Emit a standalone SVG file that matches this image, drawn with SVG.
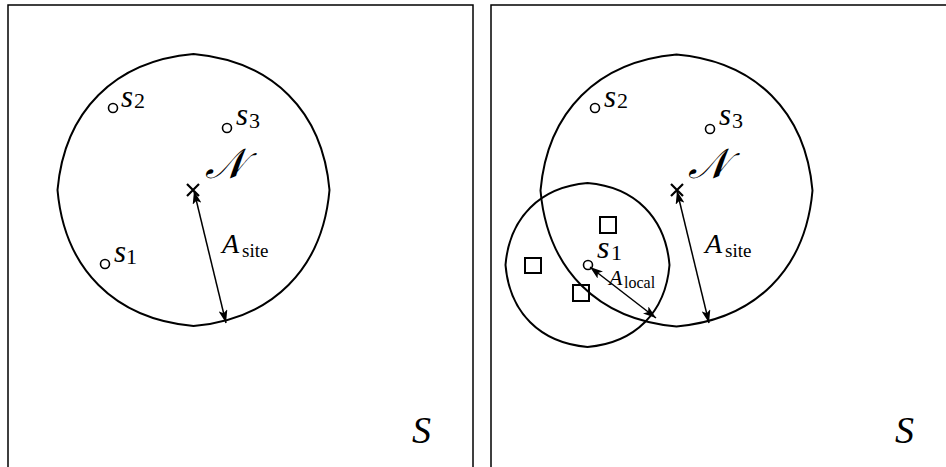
<svg xmlns="http://www.w3.org/2000/svg" width="946" height="467" viewBox="0 0 946 467">
<defs>
<marker id="ah" markerUnits="userSpaceOnUse" viewBox="0 0 13 9" refX="13" refY="4.5" markerWidth="13" markerHeight="9" orient="auto-start-reverse">
<path d="M0,0 L13,4.5 L0,9 L3,4.5 Z" fill="#000"/>
</marker>
<style>
.frame{fill:none;stroke:#000;stroke-width:1.5}
.blob{fill:none;stroke:#000;stroke-width:2}
.site{fill:#fff;stroke:#000;stroke-width:1.6}
.sq{fill:none;stroke:#000;stroke-width:2}
.cross{stroke:#000;stroke-width:2.2;fill:none}
.arr{stroke:#000;stroke-width:1.5;fill:none;marker-start:url(#ah);marker-end:url(#ah)}
</style>
</defs>
<g id="panel-left">
<rect id="frame-left" class="frame" x="8" y="5" width="465" height="480"/>
<g id="site-region-left"><path class="blob" d="M193.5,54 C272.5,61 322.5,111 329.5,190 C322.5,269 272.5,319 193.5,326 C114.5,319 64.5,269 57.5,190 C64.5,111 114.5,61 193.5,54 Z"/></g>
<g id="center-left"><path class="cross" d="M187,184 L199,196 M199,184 L187,196"/><text font-family="Liberation Serif" font-style="italic" font-size="42" x="205" y="178">𝒩</text></g>
<g id="s1-left"><circle class="site" cx="105" cy="264" r="4.5"/><text font-family="Liberation Serif" font-style="italic" font-size="31" x="114" y="262">s</text><text font-family="Liberation Serif" font-size="22" x="126" y="264">1</text></g>
<g id="s2-left"><circle class="site" cx="113" cy="108" r="4.5"/><text font-family="Liberation Serif" font-style="italic" font-size="31" x="121" y="107">s</text><text font-family="Liberation Serif" font-size="22" x="134" y="108">2</text></g>
<g id="s3-left"><circle class="site" cx="227" cy="128" r="4.5"/><text font-family="Liberation Serif" font-style="italic" font-size="31" x="236" y="125">s</text><text font-family="Liberation Serif" font-size="22" x="249" y="128">3</text></g>
<g id="label-Asite-left"><text font-family="Liberation Serif" font-style="italic" font-size="28" x="222" y="253">A</text><text font-family="Liberation Serif" font-size="19" x="242" y="257">site</text></g>
<g id="label-S-left"><text font-family="Liberation Serif" font-style="italic" font-size="38" x="412" y="443">S</text></g>
</g>
<g id="panel-right">
<rect id="frame-right" class="frame" x="491" y="5" width="465" height="480"/>
<g id="site-region-right"><path class="blob" d="M676.5,54.5 C755.5,61.5 805.5,111.5 812.5,190.5 C805.5,269.5 755.5,319.5 676.5,326.5 C597.5,319.5 547.5,269.5 540.5,190.5 C547.5,111.5 597.5,61.5 676.5,54.5 Z"/></g>
<g id="local-region"><path class="blob" d="M587.5,183 C635,187 665.5,217.5 669.5,265 C665.5,312.5 635,343 587.5,347 C540,343 509.5,312.5 505.5,265 C509.5,217.5 540,187 587.5,183 Z"/></g>
<g id="center-right"><path class="cross" d="M671,184 L683,196 M683,184 L671,196"/><text font-family="Liberation Serif" font-style="italic" font-size="42" x="688" y="178">𝒩</text></g>
<g id="s1-right"><circle class="site" cx="588" cy="265" r="4.5"/><text font-family="Liberation Serif" font-style="italic" font-size="32" x="597" y="258">s</text><text font-family="Liberation Serif" font-size="22" x="611" y="260">1</text></g>
<g id="s2-right"><circle class="site" cx="595" cy="108" r="4.5"/><text font-family="Liberation Serif" font-style="italic" font-size="31" x="604" y="107">s</text><text font-family="Liberation Serif" font-size="22" x="617" y="108">2</text></g>
<g id="s3-right"><circle class="site" cx="710" cy="129" r="4.5"/><text font-family="Liberation Serif" font-style="italic" font-size="31" x="719" y="125">s</text><text font-family="Liberation Serif" font-size="22" x="732" y="128">3</text></g>
<g id="sq1"><rect class="sq" x="600" y="217" width="16" height="16"/></g>
<g id="sq2"><rect class="sq" x="525" y="258" width="16" height="15"/></g>
<g id="sq3"><rect class="sq" x="573" y="285" width="16" height="16"/></g>
<g id="label-Asite-right"><text font-family="Liberation Serif" font-style="italic" font-size="28" x="705" y="253">A</text><text font-family="Liberation Serif" font-size="19" x="725" y="257">site</text></g>
<g id="label-Alocal"><text font-family="Liberation Serif" font-style="italic" font-size="22" x="609" y="285">A</text><text font-family="Liberation Serif" font-size="16" x="624" y="288">local</text></g>
<g id="label-S-right"><text font-family="Liberation Serif" font-style="italic" font-size="38" x="895" y="443">S</text></g>
</g>
<g id="connectors">
<path class="arr" d="M194,191 L226,323"/>
<path class="arr" d="M677,191 L709,323"/>
<path class="arr" d="M590,267 L656,318"/>
</g>
</svg>
